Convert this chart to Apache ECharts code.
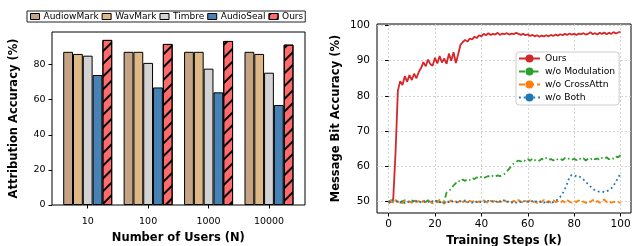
<!DOCTYPE html>
<html><head><meta charset="utf-8">
<script src="https://cdn.jsdelivr.net/npm/echarts@6/dist/echarts.min.js"></script>
<style>html,body{margin:0;padding:0;background:#fff}#c{width:632px;height:246px}</style>
</head><body><div id="c"></div><script>
// ---- Left chart data ----
const userCounts = ['10','100','1000','10000'];
const methods = ['AudiowMark','WavMark','Timbre','AudioSeal','Ours'];
const audiowmark = [87.3,87.3,87.3,87.3];
const wavmark = [86.1,87.3,87.3,86.1];
const timbre = [85.1,81.0,77.7,75.4];
const audioseal = [74.1,67.0,64.2,57.0];
const oursAttr = [94.1,91.8,93.5,91.4];
const attrTicks = [0,20,40,60,80];

// ---- Right chart data ----
const lineNames = ['Ours','w/o Modulation','w/o CrossAttn','w/o Both'];
const stepTicks = [0,20,40,60,80,100];
const bitTicks = [50,60,70,80,90,100];
const steps = [0,1,2,3,4,5,6,7,8,9,10,11,12,13,14,15,16,17,18,19,20,21,22,23,24,25,26,27,28,29,30,31,32,33,34,35,36,37,38,39,40,41,42,43,44,45,46,47,48,49,50,51,52,53,54,55,56,57,58,59,60,61,62,63,64,65,66,67,68,69,70,71,72,73,74,75,76,77,78,79,80,81,82,83,84,85,86,87,88,89,90,91,92,93,94,95,96,97,98,99,100];
const oursBit = [49.6,50.0,50.8,64.0,81.5,84.2,83.1,85.6,84.0,85.9,84.5,86.3,85.0,86.8,87.9,89.6,88.4,90.3,89.0,88.6,90.8,89.2,91.3,89.5,90.6,89.1,92.0,90.0,92.4,89.3,91.8,94.5,95.3,95.9,95.4,96.3,96.0,96.8,96.4,97.2,96.9,97.6,97.2,97.8,97.3,97.6,97.4,97.9,97.3,97.7,97.5,97.8,97.4,97.7,97.5,97.9,97.6,97.3,97.6,97.2,97.5,97.0,97.3,96.9,97.2,96.8,97.1,96.9,97.2,96.9,97.3,97.0,97.4,97.1,97.5,97.2,97.6,97.3,97.7,97.4,97.6,97.3,97.7,97.5,97.8,97.4,97.6,98.1,97.5,97.8,97.4,97.9,97.6,98.0,97.5,97.9,97.6,98.1,97.7,98.0,98.2];
const noModulation = [50.0,50.4,49.8,50.3,50.1,49.7,50.2,50.4,49.9,50.1,49.8,50.3,50.0,49.7,50.2,50.1,49.9,50.4,50.0,49.8,50.3,50.1,49.9,50.4,50.2,52.6,52.9,53.8,54.6,55.3,56.0,55.6,56.3,55.9,56.5,56.2,56.8,56.4,56.9,56.6,57.1,56.7,57.0,57.3,56.9,57.4,57.1,57.5,57.2,57.6,57.9,58.6,59.4,60.2,60.9,61.3,61.7,61.4,61.9,61.5,62.1,61.6,62.3,61.8,62.0,61.6,62.2,61.8,62.4,61.9,62.1,61.7,62.3,61.9,62.2,61.8,62.4,62.0,62.3,61.9,62.2,61.8,62.4,62.0,62.3,61.7,62.2,61.9,62.5,62.0,62.3,61.8,62.4,62.1,62.6,62.0,62.5,62.2,62.8,62.6,63.2];
const noCrossAttn = [49.8,50.3,49.6,50.5,49.9,50.2,49.5,50.4,49.8,50.1,49.7,50.5,49.9,50.2,49.6,50.3,49.8,50.4,50.0,49.5,50.2,49.8,50.6,49.9,49.4,50.3,49.9,50.4,49.7,50.1,49.8,50.5,49.9,50.2,49.6,50.3,49.9,50.5,49.8,50.1,49.7,50.4,50.0,49.6,50.3,49.9,50.5,49.8,50.2,49.7,50.4,49.9,50.1,49.6,50.3,49.8,50.5,50.0,49.7,50.2,49.9,50.4,49.8,50.1,49.6,50.3,49.9,50.5,49.8,50.2,49.7,50.4,49.9,50.1,49.6,50.3,49.8,50.5,50.0,49.7,50.2,49.9,50.4,49.8,50.1,49.6,50.3,49.9,50.5,49.8,50.2,49.7,50.4,50.6,49.9,50.3,49.7,50.0,49.8,49.9,49.7];
const noBoth = [50.1,49.7,50.4,49.9,50.2,49.8,50.3,49.6,50.1,49.9,50.4,49.8,50.2,49.7,50.0,50.3,49.8,50.1,49.6,50.2,49.9,50.4,49.8,50.1,49.7,50.2,49.9,50.3,49.8,50.0,49.6,50.2,49.9,50.4,49.8,50.1,49.7,50.3,49.9,50.2,49.8,50.1,49.6,50.3,49.9,50.2,49.8,50.4,50.0,50.6,50.2,49.8,50.3,49.9,50.1,49.7,50.2,49.9,50.4,49.8,50.1,49.7,50.3,49.9,50.2,49.8,50.1,49.7,50.2,49.8,49.6,49.9,50.2,50.7,51.4,52.3,53.6,55.2,57.0,57.6,57.5,57.2,57.3,56.8,56.3,55.6,55.0,54.3,53.8,53.2,53.0,52.8,52.9,52.7,52.9,53.3,53.8,54.6,55.7,56.8,58.1];

const FONT = 'DejaVu Sans';
const pair = (xs, ys) => xs.map((x, i) => [x, ys[i]]);
const barColors = ['#c4a484','#deb887','#d3d3d3','#4682b4','#ff6b6b'];
const barData = [audiowmark, wavmark, timbre, audioseal, oursAttr];
const lineData = [oursBit, noModulation, noCrossAttn, noBoth];
const lineColors = ['#d62728','#2ca02c','#ff7f0e','#1f77b4'];
const lineTypes = ['solid',[6,3,1.5,3],[6,3],[1.8,3]];
const lineSeriesName = n => n + '\u0020(k)';

const barSeries = methods.map((m, i) => ({
  type: 'bar', name: m, xAxisIndex: 0, yAxisIndex: 0,
  data: barData[i], barWidth: 9.8, barGap: '0%',
  itemStyle: Object.assign({color: barColors[i], borderColor: '#000', borderWidth: 1},
    m === 'Ours' ? {decal: {symbol: 'rect', symbolSize: 1, dashArrayX: [1, 0], dashArrayY: [1.3, 7], rotation: -Math.PI/4, color: '#000'}} : {}),
  animation: false
}));
const lineSeries = lineNames.map((n, i) => ({
  type: 'line', name: lineSeriesName(n), xAxisIndex: 2, yAxisIndex: 2,
  data: pair(steps, lineData[i]), symbol: 'none', showSymbol: false,
  lineStyle: {color: lineColors[i], width: 1.8, type: lineTypes[i]},
  itemStyle: {color: lineColors[i]},
  animation: false
}));

const chart = echarts.init(document.getElementById('c'), null, {renderer: 'canvas'});
chart.setOption({
  animation: false,
  textStyle: {fontFamily: FONT, color: '#000'},
  grid: [
    {left: 57.5, width: 241.7, top: 32, height: 173, show: false, outerBoundsMode: 'none', containLabel: false},
    {left: 52, width: 253, top: 32, height: 173, show: true, borderColor: '#000', borderWidth: 1, backgroundColor: 'transparent', outerBoundsMode: 'none', containLabel: false},
    {left: 377, width: 254, top: 24, height: 189, show: true, borderColor: '#000', borderWidth: 1, backgroundColor: 'transparent', outerBoundsMode: 'none', containLabel: false}
  ],
  legend: [
    {data: methods, left: 27, top: 11, itemWidth: 9, itemHeight: 6, itemGap: 3, icon: 'rect',
     padding: [1, 2, 1, 3], borderColor: '#222', borderWidth: 1, borderRadius: 0, backgroundColor: '#fff',
     textStyle: {fontFamily: FONT, fontSize: 9, color: '#000', padding: [0, 0, 0, -1]},
     itemStyle: {borderColor: '#000', borderWidth: 1}, selectedMode: false},
    {data: lineNames.map(lineSeriesName), orient: 'vertical', left: 516, top: 52, itemWidth: 21, itemHeight: 10, itemGap: 4,
     padding: [2, 4, 3, 2], borderColor: '#ccc', borderWidth: 1, borderRadius: 3, backgroundColor: 'rgba(255,255,255,0.8)',
     formatter: n => lineNames[lineNames.map(lineSeriesName).indexOf(n)],
     textStyle: {fontFamily: FONT, fontSize: 9.2, color: '#000'}, selectedMode: false}
  ],
  xAxis: [
    {type: 'category', gridIndex: 0, data: userCounts, boundaryGap: true,
     axisLine: {show: false}, axisTick: {show: true, alignWithLabel: true, length: 3.5, lineStyle: {color: '#000'}},
     axisLabel: {fontFamily: FONT, fontSize: 9.5, color: '#000', margin: 12},
     name: 'Number of Users (N)', nameLocation: 'middle', nameGap: 26,
     nameTextStyle: {fontFamily: FONT, fontSize: 11.5, fontWeight: 'bold', color: '#000'}},
    {type: 'value', gridIndex: 1, min: 0, max: 1, show: false},
    {type: 'value', gridIndex: 2, min: -5, max: 104.5,
     axisLine: {show: false}, axisTick: {show: true, length: 3.5, customValues: stepTicks, lineStyle: {color: '#000'}},
     axisLabel: {fontFamily: FONT, fontSize: 10.5, color: '#000', margin: 6, customValues: stepTicks},
     splitLine: {show: true, lineStyle: {color: '#c8c8c8', type: [2, 2], width: 0.8}},
     name: 'Training Steps (k)', nameLocation: 'middle', nameGap: 20,
     nameTextStyle: {fontFamily: FONT, fontSize: 11.5, fontWeight: 'bold', color: '#000'}}
  ],
  yAxis: [
    {type: 'value', gridIndex: 0, min: 0, max: 98.6, show: false},
    {type: 'value', gridIndex: 1, min: 0, max: 98.6,
     axisLine: {show: false}, axisTick: {show: true, length: 3.5, customValues: attrTicks, lineStyle: {color: '#000'}},
     axisLabel: {fontFamily: FONT, fontSize: 9.5, color: '#000', margin: 6.5, customValues: attrTicks},
     splitLine: {show: false},
     name: 'Attribution Accuracy (%)', nameLocation: 'middle', nameGap: 31.5,
     nameTextStyle: {fontFamily: FONT, fontSize: 11.5, fontWeight: 'bold', color: '#000'}},
    {type: 'value', gridIndex: 2, min: 46.8, max: 100.4,
     axisLine: {show: false}, axisTick: {show: true, length: 3.5, customValues: bitTicks, lineStyle: {color: '#000'}},
     axisLabel: {fontFamily: FONT, fontSize: 10.5, color: '#000', margin: 7, customValues: bitTicks},
     splitLine: {show: true, lineStyle: {color: '#c8c8c8', type: [2, 2], width: 0.8}},
     name: 'Message Bit Accuracy (%)', nameLocation: 'middle', nameGap: 34.5,
     nameTextStyle: {fontFamily: FONT, fontSize: 11.5, fontWeight: 'bold', color: '#000'}}
  ],
  series: barSeries.concat(lineSeries)
});
</script></body></html>
